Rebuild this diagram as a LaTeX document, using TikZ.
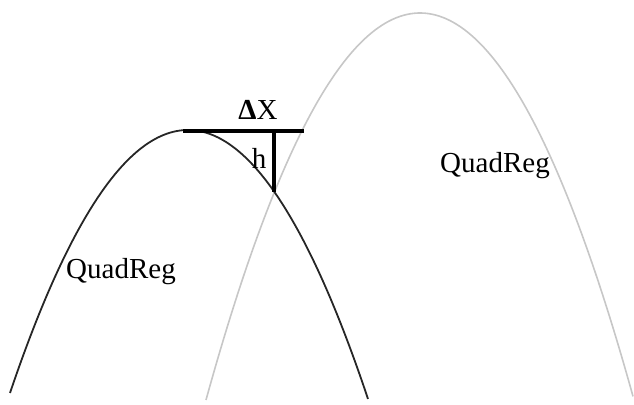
\documentclass[tikz,border=0pt]{standalone}
\usepackage{fontspec}
\setmainfont{Liberation Serif}
\usepackage{tikz}
\usetikzlibrary{positioning}

\begin{document}
\begin{tikzpicture}[x=1pt,y=-1pt,
  lbl/.style={font=\fontsize{29}{34}\selectfont,inner sep=0pt},
  curveA/.style={line width=1.8pt,black!85},
  curveB/.style={line width=1.6pt,black!22},
  bar/.style={line width=4pt,black}]
\useasboundingbox (0,0) rectangle (634,404);

% two fitted parabolas
\draw[curveB] plot[domain=206:633,samples=120,smooth] (\x,{13+0.845*((\x-420)/10)^2});
\draw[curveA] plot[domain=10:368,samples=120,smooth] (\x,{130+0.83*((\x-188)/10)^2});

\coordinate (left) at (183,131);
\coordinate (right) at (304,131);
\coordinate (top) at (274,131);
\coordinate (cross) at (274,192);

\draw[bar] (left) -- (right);
\draw[line width=3.4pt] (top) -- (cross);

\node[lbl] (dx) at (258,110) {\textbf{Δ}X};
\node[lbl] (h) at (259,158) {h};
\node[lbl] (qa) at (121,272) {QuadReg};
\node[lbl] (qb) at (495,166) {QuadReg};
\end{tikzpicture}
\end{document}
